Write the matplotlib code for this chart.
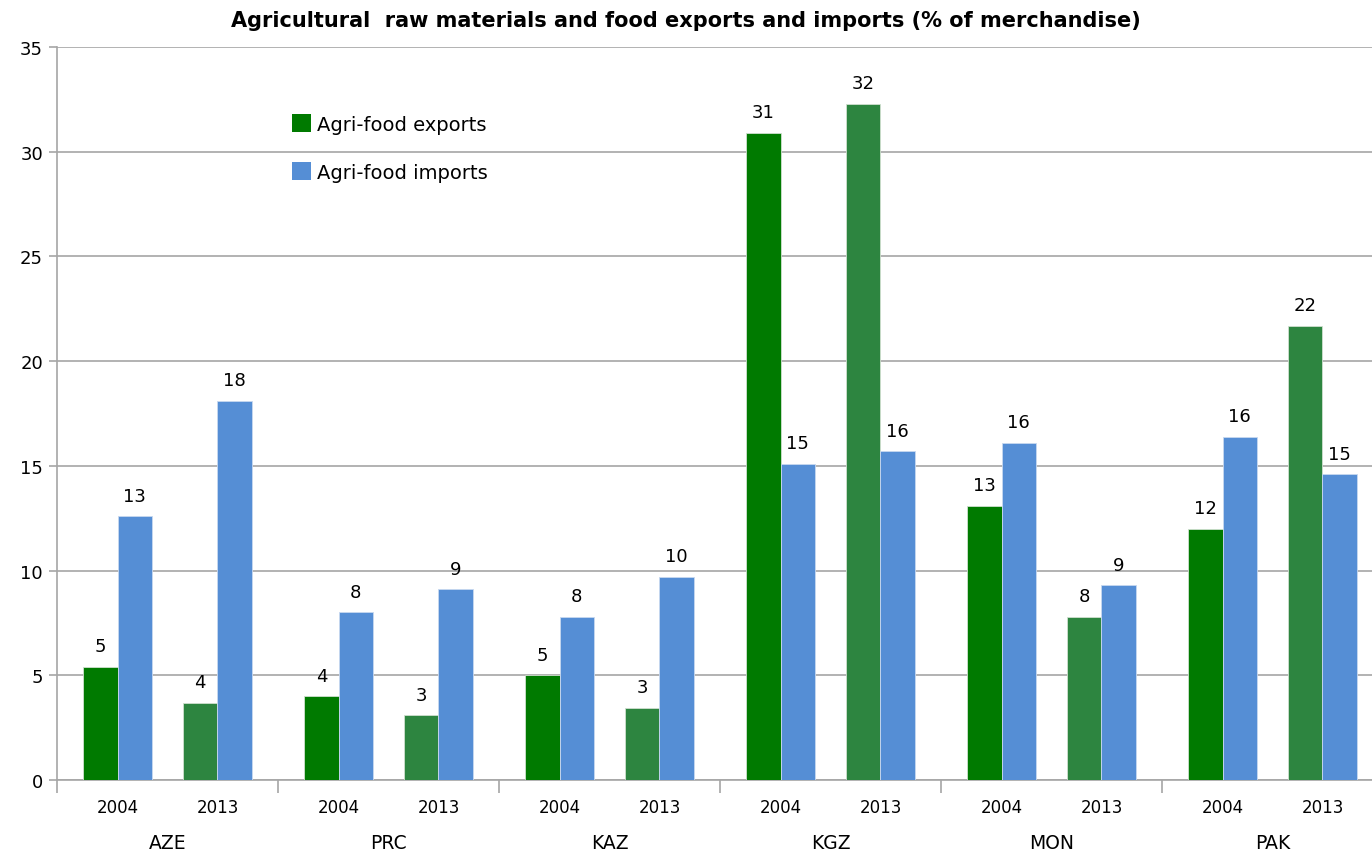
import matplotlib.pyplot as plt
import numpy as np

plt.rcParams['font.family'] = ['DejaVu Sans']

# data
countries = ["AZE", "PRC", "KAZ", "KGZ", "MON", "PAK"]
years = ["2004", "2013"]
exports_2004 = [5.4, 4.0, 5.0, 30.9, 13.1, 12.0]
exports_2013 = [3.7, 3.1, 3.45, 32.3, 7.8, 21.7]
imports_2004 = [12.6, 8.0, 7.8, 15.1, 16.1, 16.4]
imports_2013 = [18.1, 9.1, 9.7, 15.7, 9.3, 14.6]

green_04 = "#007A00"
green_13 = "#2D8540"
blue = "#558ED5"

fig = plt.figure(figsize=(13.72, 8.53), dpi=100)
ax = fig.add_axes([57/1372, 72/853, 1326/1372, 733/853])

x = np.arange(len(countries))
off = 0.226   # year offset inside a country group
w = 0.156     # bar width

for xs, ex, im, col in [(x - off, exports_2004, imports_2004, green_04),
                        (x + off, exports_2013, imports_2013, green_13)]:
    b1 = ax.bar(xs - w/2, ex, w, color=col, edgecolor="#d0e0d0", linewidth=0.6, zorder=3)
    b2 = ax.bar(xs + w/2, im, w, color=blue, edgecolor="#c8d8f0", linewidth=0.6, zorder=3)
    for bars in (b1, b2):
        for r in bars:
            h = r.get_height()
            ax.text(r.get_x() + r.get_width()/2, h + 0.55, "%d" % round(h),
                    ha="center", va="bottom", fontsize=13, color="black")

# legend proxies
ax.bar([0], [0], color=green_04, label="Agri-food exports")
ax.bar([0], [0], color=blue, label="Agri-food imports")
ax.legend(loc="upper left", bbox_to_anchor=(0.164, 0.932), frameon=False,
          fontsize=14, handlelength=1.0, handleheight=1.0, handletextpad=0.3,
          labelspacing=1.47)

ax.set_ylim(0, 35)
ax.set_xlim(-0.5, 5.5)
ax.set_yticks(range(0, 36, 5))
ax.yaxis.grid(True, color="#a6a6a6", linewidth=1.2, zorder=0)
ax.set_axisbelow(True)
ax.tick_params(axis="y", labelsize=13, length=6, color="#a6a6a6", width=1.2, pad=4)

# year labels under each pair, group separators as minor ticks
yr_pos = np.sort(np.concatenate([x - off, x + off]))
ax.set_xticks(yr_pos)
ax.set_xticklabels(years * len(countries), fontsize=12)
ax.tick_params(axis="x", which="major", length=0, pad=13)
ax.set_xticks(np.arange(-0.5, 6.0, 1.0), minor=True)
ax.tick_params(axis="x", which="minor", length=9, color="#a6a6a6", width=1.2)

for i, c in enumerate(countries):
    ax.text(x[i], -3.0, c, ha="center", va="center", fontsize=13.5)

for s in ["top", "right"]:
    ax.spines[s].set_visible(False)
for s in ["left", "bottom"]:
    ax.spines[s].set_color("#a6a6a6")
    ax.spines[s].set_linewidth(1.2)

fig.text(0.5, 0.975, "Agricultural  raw materials and food exports and imports (% of merchandise)",
         ha="center", va="center", fontsize=15, fontweight="bold")

fig.savefig("out.png", dpi=100)
